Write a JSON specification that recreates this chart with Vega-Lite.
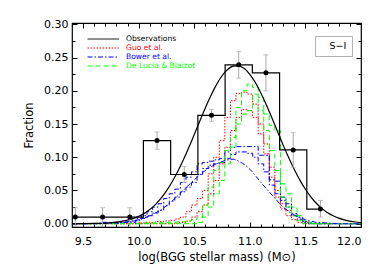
{
"$schema":"https://vega.github.io/schema/vega-lite/v6.json",
"width":289,"height":204,
"autosize":{"type":"none"},
"padding":{"left":72,"top":23,"right":21,"bottom":46},
"background":"white",
"config":{"view":{"stroke":"black","strokeWidth":1.2},"font":"DejaVu Sans",
 "axis":{"labelFont":"DejaVu Sans","labelFontSize":11,"labelColor":"black","titleFont":"DejaVu Sans","titleFontSize":11.5,"titleFontWeight":"normal","titleColor":"black","tickColor":"black","grid":false,"domain":false}},
"datasets":{
"obs":[
{"x":9.43,"y":0.010,"lo":-0.004,"hi":0.024,"panel":"S−I","model":"Observations"},
{"x":9.675,"y":0.010,"lo":-0.004,"hi":0.024,"panel":"S−I","model":"Observations"},
{"x":9.92,"y":0.010,"lo":-0.004,"hi":0.024,"panel":"S−I","model":"Observations"},
{"x":10.165,"y":0.125,"lo":0.112,"hi":0.138,"panel":"S−I","model":"Observations"},
{"x":10.41,"y":0.074,"lo":0.062,"hi":0.086,"panel":"S−I","model":"Observations"},
{"x":10.655,"y":0.163,"lo":0.154,"hi":0.172,"panel":"S−I","model":"Observations"},
{"x":10.90,"y":0.239,"lo":0.219,"hi":0.259,"panel":"S−I","model":"Observations"},
{"x":11.145,"y":0.227,"lo":0.200,"hi":0.254,"panel":"S−I","model":"Observations"},
{"x":11.39,"y":0.111,"lo":0.085,"hi":0.137,"panel":"S−I","model":"Observations"},
{"x":11.635,"y":0.022,"lo":0.010,"hi":0.035,"panel":"S−I","model":"Observations"}],
"fit":[
{"x":9.4,"y":0.00004},{"x":9.5,"y":0.00012},{"x":9.6,"y":0.00036},{"x":9.7,"y":0.00095},{"x":9.8,"y":0.0023},{"x":9.9,"y":0.0053},{"x":10.0,"y":0.011},{"x":10.05,"y":0.0155},{"x":10.1,"y":0.0213},{"x":10.15,"y":0.0287},{"x":10.2,"y":0.038},{"x":10.25,"y":0.0493},{"x":10.3,"y":0.0627},{"x":10.35,"y":0.0781},{"x":10.4,"y":0.0954},{"x":10.45,"y":0.1143},{"x":10.5,"y":0.1342},{"x":10.55,"y":0.1545},{"x":10.6,"y":0.1744},{"x":10.65,"y":0.1929},{"x":10.7,"y":0.2093},{"x":10.75,"y":0.2226},{"x":10.8,"y":0.232},{"x":10.85,"y":0.2371},{"x":10.9,"y":0.2376},{"x":10.95,"y":0.2334},{"x":11.0,"y":0.2248},{"x":11.05,"y":0.2122},{"x":11.1,"y":0.1964},{"x":11.15,"y":0.1782},{"x":11.2,"y":0.1585},{"x":11.25,"y":0.1383},{"x":11.3,"y":0.1182},{"x":11.35,"y":0.0991},{"x":11.4,"y":0.0814},{"x":11.45,"y":0.0656},{"x":11.5,"y":0.0518},{"x":11.55,"y":0.0401},{"x":11.6,"y":0.0304},{"x":11.65,"y":0.0226},{"x":11.7,"y":0.0165},{"x":11.75,"y":0.0118},{"x":11.8,"y":0.0083},{"x":11.85,"y":0.0057},{"x":11.9,"y":0.0038},{"x":11.95,"y":0.0025},{"x":12.0,"y":0.0016}],
"models":[
{"model":"Guo et al.","series":"g1","x":9.4,"y":0},{"model":"Guo et al.","series":"g1","x":9.95,"y":0},{"model":"Guo et al.","series":"g1","x":10.0,"y":0.001},{"model":"Guo et al.","series":"g1","x":10.1,"y":0.002},{"model":"Guo et al.","series":"g1","x":10.2,"y":0.003},{"model":"Guo et al.","series":"g1","x":10.25,"y":0.004},{"model":"Guo et al.","series":"g1","x":10.3,"y":0.005},{"model":"Guo et al.","series":"g1","x":10.35,"y":0.007},{"model":"Guo et al.","series":"g1","x":10.4,"y":0.01},{"model":"Guo et al.","series":"g1","x":10.45,"y":0.018},{"model":"Guo et al.","series":"g1","x":10.5,"y":0.028},{"model":"Guo et al.","series":"g1","x":10.55,"y":0.038},{"model":"Guo et al.","series":"g1","x":10.6,"y":0.05},{"model":"Guo et al.","series":"g1","x":10.65,"y":0.075},{"model":"Guo et al.","series":"g1","x":10.7,"y":0.1},{"model":"Guo et al.","series":"g1","x":10.75,"y":0.125},{"model":"Guo et al.","series":"g1","x":10.8,"y":0.16},{"model":"Guo et al.","series":"g1","x":10.85,"y":0.185},{"model":"Guo et al.","series":"g1","x":10.9,"y":0.196},{"model":"Guo et al.","series":"g1","x":10.95,"y":0.198},{"model":"Guo et al.","series":"g1","x":11.0,"y":0.195},{"model":"Guo et al.","series":"g1","x":11.05,"y":0.18},{"model":"Guo et al.","series":"g1","x":11.1,"y":0.15},{"model":"Guo et al.","series":"g1","x":11.15,"y":0.12},{"model":"Guo et al.","series":"g1","x":11.2,"y":0.085},{"model":"Guo et al.","series":"g1","x":11.25,"y":0.05},{"model":"Guo et al.","series":"g1","x":11.3,"y":0.03},{"model":"Guo et al.","series":"g1","x":11.35,"y":0.02},{"model":"Guo et al.","series":"g1","x":11.4,"y":0.012},{"model":"Guo et al.","series":"g1","x":11.45,"y":0.007},{"model":"Guo et al.","series":"g1","x":11.5,"y":0.003},{"model":"Guo et al.","series":"g1","x":11.55,"y":0.001},{"model":"Guo et al.","series":"g1","x":11.6,"y":0},{"model":"Guo et al.","series":"g1","x":12.0,"y":0},
{"model":"Guo et al.","series":"g2","x":9.4,"y":0},{"model":"Guo et al.","series":"g2","x":10.3,"y":0},{"model":"Guo et al.","series":"g2","x":10.4,"y":0.002},{"model":"Guo et al.","series":"g2","x":10.45,"y":0.004},{"model":"Guo et al.","series":"g2","x":10.5,"y":0.01},{"model":"Guo et al.","series":"g2","x":10.55,"y":0.018},{"model":"Guo et al.","series":"g2","x":10.6,"y":0.028},{"model":"Guo et al.","series":"g2","x":10.65,"y":0.045},{"model":"Guo et al.","series":"g2","x":10.7,"y":0.065},{"model":"Guo et al.","series":"g2","x":10.75,"y":0.09},{"model":"Guo et al.","series":"g2","x":10.8,"y":0.115},{"model":"Guo et al.","series":"g2","x":10.85,"y":0.14},{"model":"Guo et al.","series":"g2","x":10.9,"y":0.16},{"model":"Guo et al.","series":"g2","x":10.95,"y":0.172},{"model":"Guo et al.","series":"g2","x":11.0,"y":0.17},{"model":"Guo et al.","series":"g2","x":11.05,"y":0.16},{"model":"Guo et al.","series":"g2","x":11.1,"y":0.135},{"model":"Guo et al.","series":"g2","x":11.15,"y":0.105},{"model":"Guo et al.","series":"g2","x":11.2,"y":0.07},{"model":"Guo et al.","series":"g2","x":11.25,"y":0.04},{"model":"Guo et al.","series":"g2","x":11.3,"y":0.022},{"model":"Guo et al.","series":"g2","x":11.35,"y":0.012},{"model":"Guo et al.","series":"g2","x":11.4,"y":0.006},{"model":"Guo et al.","series":"g2","x":11.45,"y":0.002},{"model":"Guo et al.","series":"g2","x":11.5,"y":0},{"model":"Guo et al.","series":"g2","x":12.0,"y":0},
{"model":"Bower et al.","series":"b1","x":9.4,"y":0},{"model":"Bower et al.","series":"b1","x":9.85,"y":0.001},{"model":"Bower et al.","series":"b1","x":9.9,"y":0.002},{"model":"Bower et al.","series":"b1","x":9.95,"y":0.004},{"model":"Bower et al.","series":"b1","x":10.0,"y":0.008},{"model":"Bower et al.","series":"b1","x":10.05,"y":0.012},{"model":"Bower et al.","series":"b1","x":10.1,"y":0.018},{"model":"Bower et al.","series":"b1","x":10.15,"y":0.025},{"model":"Bower et al.","series":"b1","x":10.2,"y":0.03},{"model":"Bower et al.","series":"b1","x":10.25,"y":0.038},{"model":"Bower et al.","series":"b1","x":10.3,"y":0.045},{"model":"Bower et al.","series":"b1","x":10.35,"y":0.052},{"model":"Bower et al.","series":"b1","x":10.4,"y":0.062},{"model":"Bower et al.","series":"b1","x":10.45,"y":0.07},{"model":"Bower et al.","series":"b1","x":10.5,"y":0.078},{"model":"Bower et al.","series":"b1","x":10.55,"y":0.09},{"model":"Bower et al.","series":"b1","x":10.6,"y":0.092},{"model":"Bower et al.","series":"b1","x":10.65,"y":0.094},{"model":"Bower et al.","series":"b1","x":10.7,"y":0.096},{"model":"Bower et al.","series":"b1","x":10.75,"y":0.098},{"model":"Bower et al.","series":"b1","x":10.8,"y":0.108},{"model":"Bower et al.","series":"b1","x":10.85,"y":0.115},{"model":"Bower et al.","series":"b1","x":10.9,"y":0.116},{"model":"Bower et al.","series":"b1","x":10.95,"y":0.116},{"model":"Bower et al.","series":"b1","x":11.0,"y":0.116},{"model":"Bower et al.","series":"b1","x":11.05,"y":0.116},{"model":"Bower et al.","series":"b1","x":11.1,"y":0.103},{"model":"Bower et al.","series":"b1","x":11.15,"y":0.103},{"model":"Bower et al.","series":"b1","x":11.2,"y":0.066},{"model":"Bower et al.","series":"b1","x":11.25,"y":0.064},{"model":"Bower et al.","series":"b1","x":11.3,"y":0.04},{"model":"Bower et al.","series":"b1","x":11.35,"y":0.03},{"model":"Bower et al.","series":"b1","x":11.4,"y":0.015},{"model":"Bower et al.","series":"b1","x":11.45,"y":0.01},{"model":"Bower et al.","series":"b1","x":11.5,"y":0.003},{"model":"Bower et al.","series":"b1","x":11.55,"y":0.001},{"model":"Bower et al.","series":"b1","x":11.6,"y":0},{"model":"Bower et al.","series":"b1","x":12.0,"y":0},
{"model":"Bower et al.","series":"b2","x":9.4,"y":0},{"model":"Bower et al.","series":"b2","x":9.95,"y":0.002},{"model":"Bower et al.","series":"b2","x":10.0,"y":0.005},{"model":"Bower et al.","series":"b2","x":10.05,"y":0.008},{"model":"Bower et al.","series":"b2","x":10.1,"y":0.012},{"model":"Bower et al.","series":"b2","x":10.15,"y":0.016},{"model":"Bower et al.","series":"b2","x":10.2,"y":0.02},{"model":"Bower et al.","series":"b2","x":10.25,"y":0.027},{"model":"Bower et al.","series":"b2","x":10.3,"y":0.034},{"model":"Bower et al.","series":"b2","x":10.35,"y":0.04},{"model":"Bower et al.","series":"b2","x":10.4,"y":0.048},{"model":"Bower et al.","series":"b2","x":10.45,"y":0.055},{"model":"Bower et al.","series":"b2","x":10.5,"y":0.062},{"model":"Bower et al.","series":"b2","x":10.55,"y":0.074},{"model":"Bower et al.","series":"b2","x":10.6,"y":0.083},{"model":"Bower et al.","series":"b2","x":10.65,"y":0.088},{"model":"Bower et al.","series":"b2","x":10.7,"y":0.09},{"model":"Bower et al.","series":"b2","x":10.75,"y":0.092},{"model":"Bower et al.","series":"b2","x":10.8,"y":0.098},{"model":"Bower et al.","series":"b2","x":10.85,"y":0.104},{"model":"Bower et al.","series":"b2","x":10.9,"y":0.108},{"model":"Bower et al.","series":"b2","x":10.95,"y":0.108},{"model":"Bower et al.","series":"b2","x":11.0,"y":0.106},{"model":"Bower et al.","series":"b2","x":11.05,"y":0.1},{"model":"Bower et al.","series":"b2","x":11.1,"y":0.09},{"model":"Bower et al.","series":"b2","x":11.15,"y":0.078},{"model":"Bower et al.","series":"b2","x":11.2,"y":0.058},{"model":"Bower et al.","series":"b2","x":11.25,"y":0.045},{"model":"Bower et al.","series":"b2","x":11.3,"y":0.035},{"model":"Bower et al.","series":"b2","x":11.35,"y":0.025},{"model":"Bower et al.","series":"b2","x":11.4,"y":0.012},{"model":"Bower et al.","series":"b2","x":11.45,"y":0.006},{"model":"Bower et al.","series":"b2","x":11.5,"y":0.002},{"model":"Bower et al.","series":"b2","x":11.55,"y":0},{"model":"Bower et al.","series":"b2","x":12.0,"y":0},
{"model":"De Lucia & Blaizot","series":"d1","x":9.4,"y":0},{"model":"De Lucia & Blaizot","series":"d1","x":10.0,"y":0},{"model":"De Lucia & Blaizot","series":"d1","x":10.1,"y":0.001},{"model":"De Lucia & Blaizot","series":"d1","x":10.3,"y":0.002},{"model":"De Lucia & Blaizot","series":"d1","x":10.4,"y":0.003},{"model":"De Lucia & Blaizot","series":"d1","x":10.45,"y":0.004},{"model":"De Lucia & Blaizot","series":"d1","x":10.5,"y":0.006},{"model":"De Lucia & Blaizot","series":"d1","x":10.55,"y":0.01},{"model":"De Lucia & Blaizot","series":"d1","x":10.6,"y":0.028},{"model":"De Lucia & Blaizot","series":"d1","x":10.65,"y":0.055},{"model":"De Lucia & Blaizot","series":"d1","x":10.7,"y":0.08},{"model":"De Lucia & Blaizot","series":"d1","x":10.75,"y":0.092},{"model":"De Lucia & Blaizot","series":"d1","x":10.8,"y":0.11},{"model":"De Lucia & Blaizot","series":"d1","x":10.85,"y":0.13},{"model":"De Lucia & Blaizot","series":"d1","x":10.9,"y":0.175},{"model":"De Lucia & Blaizot","series":"d1","x":10.95,"y":0.2},{"model":"De Lucia & Blaizot","series":"d1","x":11.0,"y":0.21},{"model":"De Lucia & Blaizot","series":"d1","x":11.05,"y":0.205},{"model":"De Lucia & Blaizot","series":"d1","x":11.1,"y":0.19},{"model":"De Lucia & Blaizot","series":"d1","x":11.15,"y":0.165},{"model":"De Lucia & Blaizot","series":"d1","x":11.2,"y":0.148},{"model":"De Lucia & Blaizot","series":"d1","x":11.25,"y":0.14},{"model":"De Lucia & Blaizot","series":"d1","x":11.3,"y":0.06},{"model":"De Lucia & Blaizot","series":"d1","x":11.35,"y":0.045},{"model":"De Lucia & Blaizot","series":"d1","x":11.4,"y":0.025},{"model":"De Lucia & Blaizot","series":"d1","x":11.45,"y":0.012},{"model":"De Lucia & Blaizot","series":"d1","x":11.5,"y":0.005},{"model":"De Lucia & Blaizot","series":"d1","x":11.55,"y":0.002},{"model":"De Lucia & Blaizot","series":"d1","x":11.6,"y":0},{"model":"De Lucia & Blaizot","series":"d1","x":12.0,"y":0},
{"model":"De Lucia & Blaizot","series":"d2","x":9.4,"y":0},{"model":"De Lucia & Blaizot","series":"d2","x":10.5,"y":0},{"model":"De Lucia & Blaizot","series":"d2","x":10.55,"y":0.002},{"model":"De Lucia & Blaizot","series":"d2","x":10.6,"y":0.01},{"model":"De Lucia & Blaizot","series":"d2","x":10.65,"y":0.025},{"model":"De Lucia & Blaizot","series":"d2","x":10.7,"y":0.045},{"model":"De Lucia & Blaizot","series":"d2","x":10.75,"y":0.065},{"model":"De Lucia & Blaizot","series":"d2","x":10.8,"y":0.09},{"model":"De Lucia & Blaizot","series":"d2","x":10.85,"y":0.115},{"model":"De Lucia & Blaizot","series":"d2","x":10.9,"y":0.15},{"model":"De Lucia & Blaizot","series":"d2","x":10.95,"y":0.165},{"model":"De Lucia & Blaizot","series":"d2","x":11.0,"y":0.17},{"model":"De Lucia & Blaizot","series":"d2","x":11.05,"y":0.195},{"model":"De Lucia & Blaizot","series":"d2","x":11.1,"y":0.17},{"model":"De Lucia & Blaizot","series":"d2","x":11.15,"y":0.14},{"model":"De Lucia & Blaizot","series":"d2","x":11.2,"y":0.11},{"model":"De Lucia & Blaizot","series":"d2","x":11.25,"y":0.08},{"model":"De Lucia & Blaizot","series":"d2","x":11.3,"y":0.04},{"model":"De Lucia & Blaizot","series":"d2","x":11.35,"y":0.025},{"model":"De Lucia & Blaizot","series":"d2","x":11.4,"y":0.012},{"model":"De Lucia & Blaizot","series":"d2","x":11.45,"y":0.005},{"model":"De Lucia & Blaizot","series":"d2","x":11.5,"y":0},{"model":"De Lucia & Blaizot","series":"d2","x":12.0,"y":0}],
"bowercurve":[
{"model":"Bower et al.","x":9.4,"y":0},{"model":"Bower et al.","x":9.6,"y":0.0003},{"model":"Bower et al.","x":9.8,"y":0.001},{"model":"Bower et al.","x":9.9,"y":0.003},{"model":"Bower et al.","x":10.0,"y":0.006},{"model":"Bower et al.","x":10.1,"y":0.012},{"model":"Bower et al.","x":10.2,"y":0.021},{"model":"Bower et al.","x":10.3,"y":0.034},{"model":"Bower et al.","x":10.4,"y":0.05},{"model":"Bower et al.","x":10.5,"y":0.066},{"model":"Bower et al.","x":10.6,"y":0.08},{"model":"Bower et al.","x":10.7,"y":0.09},{"model":"Bower et al.","x":10.8,"y":0.096},{"model":"Bower et al.","x":10.85,"y":0.097},{"model":"Bower et al.","x":10.9,"y":0.094},{"model":"Bower et al.","x":11.0,"y":0.082},{"model":"Bower et al.","x":11.1,"y":0.062},{"model":"Bower et al.","x":11.2,"y":0.043},{"model":"Bower et al.","x":11.3,"y":0.025},{"model":"Bower et al.","x":11.4,"y":0.013},{"model":"Bower et al.","x":11.5,"y":0.006},{"model":"Bower et al.","x":11.6,"y":0.002},{"model":"Bower et al.","x":11.7,"y":0.001},{"model":"Bower et al.","x":11.8,"y":0},{"model":"Bower et al.","x":12.0,"y":0}]
},
"resolve":{"axis":{"x":"independent","y":"independent"}},
"layer":[
{"data":{"name":"models"},
 "mark":{"type":"line","interpolate":"step","strokeWidth":1,"clip":true},
 "encoding":{
  "x":{"field":"x","type":"quantitative","scale":{"domain":[9.4,12.0],"nice":false,"zero":false},
       "axis":{"values":[9.5,10,10.5,11,11.5,12],"format":".1f","tickSize":-5,"labelPadding":13,"title":"log(BGG stellar mass) (M⊙)","titlePadding":5}},
  "y":{"field":"y","type":"quantitative","scale":{"domain":[-0.005,0.302],"nice":false,"zero":false},
       "axis":{"values":[0,0.05,0.1,0.15,0.2,0.25,0.3],"format":".2f","tickSize":-5,"labelPadding":9,"title":"Fraction","titlePadding":9}},
  "color":{"field":"model","type":"nominal",
    "scale":{"domain":["Observations","Guo et al.","Bower et al.","De Lucia & Blaizot"],"range":["black","#ff0000","#0000ff","#00ff00"]},
    "legend":{"orient":"none","legendX":15,"legendY":11,"title":null,"padding":0,"rowPadding":0,"symbolType":"M-1,0H6","symbolSize":81,"symbolStrokeWidth":1,"labelOffset":29,"labelFont":"DejaVu Sans","labelFontSize":7.6,
      "labelColor":{"expr":"datum.label === 'Guo et al.' ? '#ff0000' : datum.label === 'Bower et al.' ? '#0000ff' : datum.label === 'De Lucia & Blaizot' ? '#00ff00' : 'black'"}}},
  "strokeDash":{"field":"model","type":"nominal",
    "scale":{"domain":["Observations","Guo et al.","Bower et al.","De Lucia & Blaizot"],"range":[[1,0],[1.5,1.5],[5,2,1.5,2],[5,3]]},
    "legend":{"orient":"none","legendX":15,"legendY":11,"title":null,"padding":0,"rowPadding":0,"symbolType":"M-1,0H6","symbolSize":81,"symbolStrokeWidth":1,"labelOffset":29,"labelFont":"DejaVu Sans","labelFontSize":7.6,
      "labelColor":{"expr":"datum.label === 'Guo et al.' ? '#ff0000' : datum.label === 'Bower et al.' ? '#0000ff' : datum.label === 'De Lucia & Blaizot' ? '#00ff00' : 'black'"}}},
  "detail":{"field":"series"},
  "order":{"field":"x","type":"quantitative"}}},
{"data":{"name":"bowercurve"},
 "mark":{"type":"line","interpolate":"monotone","strokeWidth":1,"clip":true},
 "encoding":{
  "x":{"field":"x","type":"quantitative","axis":{"values":[9.4,9.5,9.6,9.7,9.8,9.9,10.0,10.1,10.2,10.3,10.4,10.5,10.6,10.7,10.8,10.9,11.0,11.1,11.2,11.3,11.4,11.5,11.6,11.7,11.8,11.9,12.0],"labels":false,"tickSize":-3,"title":null,"orient":"bottom"}},
  "y":{"field":"y","type":"quantitative","axis":{"values":[0.025,0.075,0.125,0.175,0.225,0.275],"labels":false,"tickSize":-3,"title":null,"orient":"left"}},
  "color":{"field":"model","type":"nominal"},
  "strokeDash":{"field":"model","type":"nominal"}}},
{"data":{"name":"fit"},
 "mark":{"type":"line","interpolate":"monotone","strokeWidth":1.2,"color":"black","clip":true},
 "encoding":{
  "x":{"field":"x","type":"quantitative","axis":{"values":[9.5,10,10.5,11,11.5,12],"labels":false,"tickSize":-5,"title":null,"orient":"top"}},
  "y":{"field":"y","type":"quantitative","axis":{"values":[0,0.05,0.1,0.15,0.2,0.25,0.3],"labels":false,"tickSize":-5,"title":null,"orient":"right"}}}},
{"data":{"name":"obs"},
 "mark":{"type":"line","interpolate":"step","strokeWidth":1.2,"clip":true},
 "encoding":{
  "x":{"field":"x","type":"quantitative","axis":{"values":[9.4,9.5,9.6,9.7,9.8,9.9,10.0,10.1,10.2,10.3,10.4,10.5,10.6,10.7,10.8,10.9,11.0,11.1,11.2,11.3,11.4,11.5,11.6,11.7,11.8,11.9,12.0],"labels":false,"tickSize":-3,"title":null,"orient":"top"}},
  "y":{"field":"y","type":"quantitative","axis":{"values":[0.025,0.075,0.125,0.175,0.225,0.275],"labels":false,"tickSize":-3,"title":null,"orient":"right"}},
  "color":{"field":"model","type":"nominal"},
  "strokeDash":{"field":"model","type":"nominal"}}},
{"data":{"name":"obs"},
 "mark":{"type":"errorbar","ticks":{"size":5},"color":"#aaaaaa","clip":true},
 "encoding":{
  "x":{"field":"x","type":"quantitative","axis":null},
  "y":{"field":"lo","type":"quantitative","axis":null},
  "y2":{"field":"hi"}}},
{"data":{"name":"obs"},
 "mark":{"type":"point","filled":true,"color":"black","size":25,"opacity":1},
 "encoding":{
  "x":{"field":"x","type":"quantitative","axis":null},
  "y":{"field":"y","type":"quantitative","axis":null},
  "shape":{"field":"panel","type":"nominal","scale":{"range":["circle"]},
    "legend":{"orient":"none","legendX":243,"legendY":13,"title":null,"padding":5,"symbolSize":0,"symbolOpacity":0,"labelOffset":0,"labelFont":"DejaVu Sans","labelFontSize":9.5,"labelColor":"black","strokeColor":"#b4b4b4","labelExpr":"datum.label + '\u00a0\u00a0\u00a0'"}}}}
]
}
